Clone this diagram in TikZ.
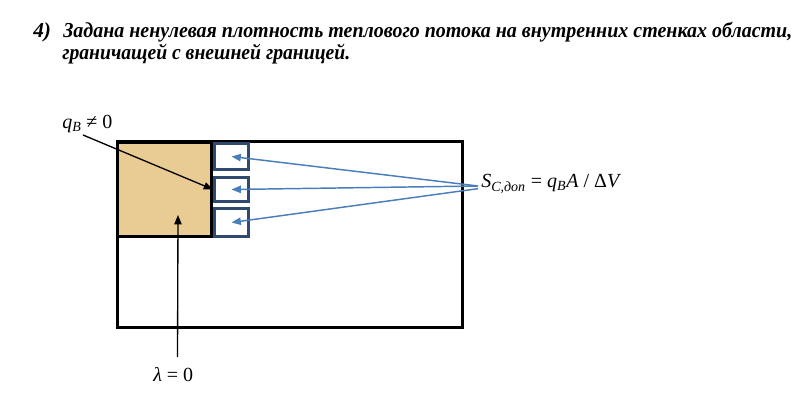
\documentclass[tikz,border=0pt]{standalone}
\usepackage{fontspec}
\setmainfont{Liberation Serif}
\usepackage{graphicx}
\usetikzlibrary{arrows.meta,fit}
\definecolor{tan}{RGB}{233,204,148}
\definecolor{boxblue}{RGB}{47,74,110}
\definecolor{arrblue}{RGB}{74,126,187}
\tikzset{
  thickframe/.style={draw=black, line width=2.3pt},
  tanbox/.style={thickframe, fill=tan, inner sep=0pt},
  smallbox/.style={draw=boxblue, line width=2.2pt, inner sep=0pt, fill=white},
  bluearrow/.style={draw=arrblue, line width=1.1pt, -{Triangle[length=7pt,width=5.5pt]}},
  blackarrow/.style={draw=black, line width=1pt, -{Triangle[length=7pt,width=5.5pt]}},
  lbl/.style={inner sep=0pt, font=\fontsize{15pt}{17pt}\selectfont},
  ttl/.style={inner sep=0pt, anchor=base west, font=\fontsize{16pt}{18pt}\selectfont\bfseries\itshape},
}
\begin{document}
\begin{tikzpicture}[x=0.75pt, y=-0.75pt]
\useasboundingbox (0,0) rectangle (805,409);
% title
\node[ttl] (num) at (33,38) {4)};
\node[ttl] (t1) at (63,38) {\resizebox{546.75pt}{\height}{Задана ненулевая плотность теплового потока на внутренних стенках области,}};
\node[ttl] (t2) at (62,60) {\resizebox{216pt}{\height}{граничащей с внешней границей.}};
% outer region
\node[thickframe, inner sep=0pt, fit={(117.5,141.5) (462.5,327.5)}] (outer) {};
\node[tanbox, fit={(117.5,142.5) (211.5,236.5)}] (sq) {};
% control volumes
\node[smallbox, fit={(214.5,143.5) (248.5,169.5)}] (b1) {};
\node[smallbox, fit={(214.5,177.5) (248.5,201.5)}] (b2) {};
\node[smallbox, fit={(214.5,208.5) (248.5,236.5)}] (b3) {};
% labels
\node[lbl, anchor=base west] (S) at (481,188) {\textit{S}\textsubscript{\textit{C,доп}} = \textit{q}\textsubscript{\textit{B}}\textit{A} / Δ\textit{V}};
\node[lbl, anchor=base west] (q) at (62,129) {\textit{q}\textsubscript{\textit{B}} ≠ 0};
\node[lbl, anchor=base west] (lam) at (153,381) {\textit{λ} = 0};
\coordinate (src) at (478,186);
\coordinate (qs) at (83,135);
\coordinate (ls) at (177.5,357);
\coordinate (lt) at (178,215);
% connectors
\draw[bluearrow] (src) -- (b1.center);
\draw[bluearrow] (src) -- (b2.center);
\draw[bluearrow] ([yshift=-2pt]src) -- (b3.center);
\draw[blackarrow] (qs) -- (b2.west);
\draw[blackarrow] (ls) -- (lt);
\end{tikzpicture}
\end{document}
